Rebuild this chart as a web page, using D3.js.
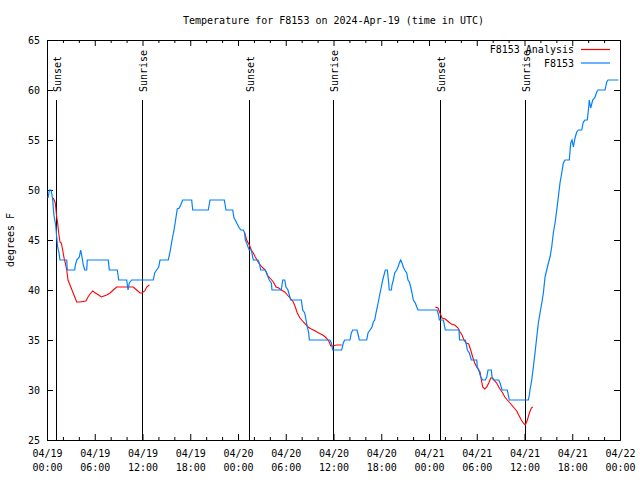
<!DOCTYPE html>
<html><head><meta charset="utf-8">
<script src="https://cdn.jsdelivr.net/npm/d3@7"></script>
<style>
body{margin:0;background:#fff}
text{font-family:"DejaVu Sans Mono","Liberation Mono",monospace;font-size:10px;fill:#000}
</style>
</head><body>
<svg id="chart" width="640" height="480"></svg>
<script>
// ---- data (hours after 2024-04-19 00:00 UTC) ----
const chartTitle = "Temperature for F8153 on 2024-Apr-19 (time in UTC)";
const yLabel = "degrees F";
const seriesNames = ["F8153 Analysis", "F8153"];
const obsHours = [0.13,0.31,0.50,0.63,0.72,0.84,0.97,1.09,1.22,1.34,
1.51,1.63,2.48,2.55,3.48,3.56,3.74,4.06,4.23,4.40,
4.56,4.74,4.99,5.06,7.70,7.83,8.83,9.01,10.02,10.18,
10.34,10.64,13.36,13.53,13.78,14.04,14.20,15.24,15.46,15.71,
15.96,16.12,16.37,16.62,16.80,17.05,18.18,18.31,20.27,20.48,
22.28,22.49,23.34,23.50,23.66,23.84,24.09,24.34,24.67,24.84,
24.92,25.09,25.26,25.42,25.67,25.92,26.51,26.68,26.85,27.43,
27.61,27.77,27.93,28.19,28.27,29.44,29.62,29.87,30.03,30.28,
30.45,30.62,31.96,32.13,32.38,32.55,32.71,32.89,32.96,35.56,
35.73,35.90,37.03,37.23,37.41,38.07,38.24,38.42,38.95,39.17,
39.24,40.17,40.34,40.59,40.84,41.00,41.18,41.34,41.51,41.68,
41.85,42.01,42.18,42.35,42.51,42.76,42.94,43.01,43.27,43.35,
43.52,43.69,43.94,44.11,44.27,44.45,44.61,44.77,44.95,45.20,
45.36,45.53,45.70,45.87,46.03,46.28,46.46,46.62,49.01,49.20,
49.30,49.80,50.05,51.77,51.84,52.56,52.65,52.82,53.07,53.32,
54.00,54.07,54.25,54.50,54.75,55.08,55.26,55.42,55.83,55.92,
56.08,56.76,56.93,57.18,57.84,58.02,58.09,60.48,60.61,60.69,
60.91,61.11,61.32,61.54,61.74,61.95,62.17,62.37,62.58,62.79,
63.00,63.21,63.42,63.62,63.84,64.05,64.25,64.46,64.68,64.88,
65.09,65.63,65.81,65.97,66.14,66.35,66.56,66.76,67.19,67.39,
67.61,67.89,68.07,68.14,68.32,68.57,68.82,69.08,69.24,70.12,
70.33,70.50,71.80];
const obsTemps = [49.2,50,50,49.5,49,47.7,47,46.5,45.3,44.3,
43.7,43,43,42,42,42.5,43,43.3,44,43.3,
42.5,42,42,43,43,42,42,41,41,40,
40.7,41,41,41.7,42,42.3,43,43,43.8,45,
46,46.8,48.1,48.2,48.5,49,49,48,48,49,
49,48,48,47.2,47,46.7,46.3,46,46,45.7,
45,44.7,44.3,44,44,43,43,42.7,42,42,
41.7,41.3,41,40.7,40,40,41,41,40.3,40,
39.5,39,39,38,37.7,37,36.3,35.7,35,35,
34.7,34,34,34.7,35,35,35.7,36,36,35.3,
35,35,35.7,36,36.3,36.8,37,37.7,38.3,39,
39.7,40.3,41,41.5,42,42,40.7,40,40,40.5,
41,41.7,42,42.3,42.7,43,42.7,42.3,42,41.7,
41,40.8,40.3,39.7,39,38.7,38.3,38,38,37.5,
37,37,36,36,35,35,34.7,34,33.7,33,
33,32.3,32,31.3,31,31,31.3,32,32,31.3,
31,31,30.7,30,30,29.3,29,29,29.5,30,
31,32.3,33.7,35.3,36.7,37.7,38.7,39.7,41.3,42,
42.7,43.3,44.3,45.7,46.7,48,49.3,50.7,51.7,52.7,
53,53,54.7,55,54.3,55.2,55.8,56,56,56.8,
57,57,58.3,59,58.2,59,59.2,59.8,60,60,
60.8,61,61];
// analysis series; null separates the daily runs
const anaHours = [0.79,1.04,1.22,1.34,1.47,1.63,1.80,1.97,2.14,2.30,
2.48,2.64,2.89,3.14,3.39,3.73,4.15,4.90,5.15,5.40,
5.74,6.07,6.50,6.82,7.16,7.50,7.92,8.33,8.76,10.84,
11.27,11.69,11.94,12.28,12.53,12.86, null,
24.84,25.09,25.42,25.67,25.92,26.18,26.60,27.02,27.43,27.68,
28.02,28.44,28.78,29.12,29.44,29.87,30.20,30.54,30.95,31.20,
31.45,31.79,32.21,32.80,33.21,33.72,34.14,34.65,34.97,35.22,
35.47,35.65,35.90,36.40,37.03, null,
48.80,49.13,49.38,49.64,50.05,50.48,50.80,51.23,51.65,51.90,
52.15,52.40,52.65,52.99,53.24,53.49,53.74,54.07,54.41,54.58,
54.75,55.00,55.26,55.51,55.76,56.01,56.26,56.51,56.76,57.01,
57.27,57.52,57.84,58.18,58.60,59.02,59.27,59.60,59.85,60.10,
60.36,60.61,60.86,61.03];
const anaTemps = [49.2,48.7,47.3,46.7,45.7,44.8,44.7,44,43.2,42.7,
42,41,40.5,40,39.5,38.8,38.8,38.9,39.3,39.6,
39.9,39.7,39.5,39.3,39.4,39.5,39.7,40,40.3,40.3,
40,39.7,39.7,39.9,40.3,40.5, null,
45.7,45,44.5,44,43.7,43.3,42.7,42.3,42,41.5,
41.2,40.8,40.3,40.2,40,39.8,39.5,39.2,38.8,38.3,
37.7,37.2,36.8,36.3,36.1,35.9,35.7,35.5,35.3,35.1,
34.8,34.4,34.4,34.5,34.5, null,
38.3,38.2,37.7,37.2,37.1,36.8,36.6,36.5,36.2,35.8,
35.5,35,34.7,34.6,34,33.3,32.7,32.2,31.8,31,
30.3,30.1,30.3,30.7,31.2,31.2,30.9,30.7,30.3,30,
29.7,29.3,29,28.7,28.3,27.9,27.5,27,26.7,26.5,
27,27.7,28.2,28.3];
const sunNames = ["Sunset","Sunrise","Sunset","Sunrise","Sunset","Sunrise"];
const sunHours = [1.17,11.97,25.35,35.98,49.43,60.10];
const yTickValues = [25,30,35,40,45,50,55,60,65];
const xMajorHours = [0,6,12,18,24,30,36,42,48,54,60,66,72];
const xMinorHours = [2,4,8,10,14,16,20,22,26,28,32,34,38,40,44,46,50,52,56,58,62,64,68,70];

// ---- layout ----
const L = 47, R = 620, T = 40, B = 440;
const base = Date.UTC(2024,3,19,0,0,0);
const toDate = h => new Date(base + h*3600e3);

const x = d3.scaleUtc().domain([toDate(0), toDate(72)]).range([L, R]);
const y = d3.scaleLinear().domain([25,65]).range([B, T]);

const svg = d3.select("#chart");
svg.append("rect").attr("width",640).attr("height",480).attr("fill","#fff");

// title and y label
svg.append("text").attr("x",(L+R)/2).attr("y",24).attr("text-anchor","middle").text(chartTitle);
svg.append("text").attr("transform","translate(14,240) rotate(-90)").attr("text-anchor","middle").text(yLabel);

// axes
const fmtTop = d3.utcFormat("%m/%d"), fmtBot = d3.utcFormat("%H:%M");
const gB = svg.append("g").attr("transform",`translate(0,${B})`)
  .call(d3.axisBottom(x).tickValues(xMajorHours.map(toDate)).tickSizeInner(-6).tickSizeOuter(0).tickPadding(8).tickFormat(d=>""));
gB.selectAll(".tick text").each(function(d){
  const t = d3.select(this);
  t.attr("y",17).attr("dy",null);
  t.append("tspan").attr("x",0).attr("y",17).text(fmtTop(d));
  t.append("tspan").attr("x",0).attr("y",31).text(fmtBot(d));
});
svg.append("g").attr("transform",`translate(0,${B})`)
  .call(d3.axisBottom(x).tickValues(xMinorHours.map(toDate)).tickSizeInner(-3).tickSizeOuter(0).tickFormat(""));
svg.append("g").attr("transform",`translate(0,${T})`)
  .call(d3.axisTop(x).tickValues(xMajorHours.map(toDate)).tickSizeInner(-6).tickSizeOuter(0).tickFormat(""));
svg.append("g").attr("transform",`translate(0,${T})`)
  .call(d3.axisTop(x).tickValues(xMinorHours.map(toDate)).tickSizeInner(-3).tickSizeOuter(0).tickFormat(""));
svg.append("g").attr("transform",`translate(${L},0)`)
  .call(d3.axisLeft(y).tickValues(yTickValues).tickSizeInner(-6).tickSizeOuter(0).tickPadding(7).tickFormat(d3.format("d")));
svg.append("g").attr("transform",`translate(${R},0)`)
  .call(d3.axisRight(y).tickValues(yTickValues).tickSizeInner(-6).tickSizeOuter(0).tickFormat(""));
svg.selectAll(".domain, .tick line").attr("stroke","#000");
svg.selectAll(".tick text").attr("font-family",null).attr("font-size",null).attr("fill","#000");
svg.selectAll("g").attr("font-family",null).attr("font-size",null);

// sunrise / sunset markers
const sun = svg.append("g");
sunHours.forEach((h,i)=>{
  const sx = Math.round(x(toDate(h))) + 0.5;
  sun.append("line").attr("x1",sx).attr("x2",sx).attr("y1",y(59)).attr("y2",B)
    .attr("stroke","#000").attr("stroke-width",1);
  sun.append("text").attr("transform",`translate(${sx+4},92) rotate(-90)`)
    .attr("text-anchor","start").text(sunNames[i]);
});

// series
const anaData = anaHours.map((h,i)=>({h, v: anaTemps[i]}));
const obsData = obsHours.map((h,i)=>({h, v: obsTemps[i]}));
const line = d3.line().defined(d=>d.h!==null && d.v!==null).x(d=>x(toDate(d.h))).y(d=>y(d.v));
svg.append("path").datum(anaData).attr("d",line).attr("fill","none").attr("stroke","#ff0000").attr("stroke-width",1.1);
svg.append("path").datum(obsData).attr("d",line).attr("fill","none").attr("stroke","#0080ff").attr("stroke-width",1.2);

// legend
const legColors = ["#ff0000","#0080ff"];
seriesNames.forEach((n,i)=>{
  const ly = 49.5 + i*13.5;
  svg.append("text").attr("x",574).attr("y",ly+3.5).attr("text-anchor","end").text(n);
  svg.append("line").attr("x1",581).attr("x2",610).attr("y1",ly).attr("y2",ly)
    .attr("stroke",legColors[i]).attr("stroke-width",1.2);
});
</script>
</body></html>
